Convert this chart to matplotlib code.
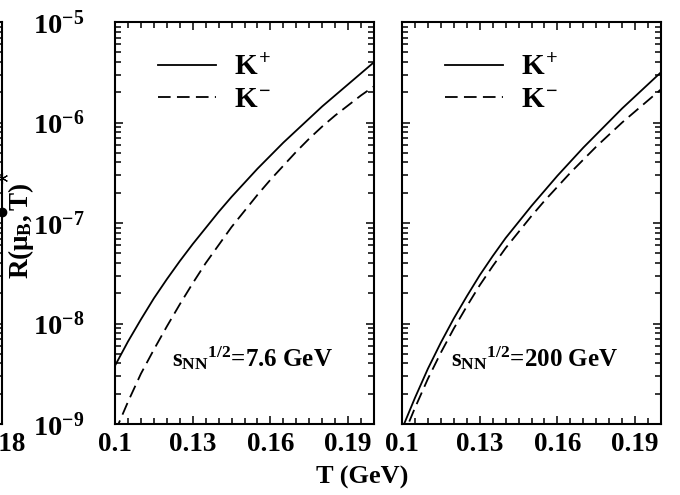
import numpy as np
import matplotlib
matplotlib.use("Agg")
import matplotlib.pyplot as plt
from matplotlib.ticker import LogLocator, NullFormatter, FixedLocator, MultipleLocator, FixedFormatter

plt.rcParams['font.family'] = ['Liberation Serif', 'DejaVu Serif']
plt.rcParams['font.weight'] = 'bold'
plt.rcParams['mathtext.fontset'] = 'custom'
plt.rcParams['mathtext.rm'] = 'Liberation Serif:bold'
plt.rcParams['mathtext.it'] = 'Liberation Serif:bold'
plt.rcParams['mathtext.bf'] = 'Liberation Serif:bold'

# ---- data ----
T = [0.100, 0.105, 0.110, 0.115, 0.120, 0.125, 0.130, 0.135, 0.140, 0.145, 0.150,
     0.155, 0.160, 0.165, 0.170, 0.175, 0.180, 0.185, 0.190, 0.195, 0.200]
# sqrt(s_NN) = 7.6 GeV  (log10 R)
kplus_76_log = [-8.42, -8.18, -7.96, -7.75, -7.56, -7.38, -7.21, -7.05, -6.89, -6.74, -6.60,
                -6.46, -6.33, -6.20, -6.08, -5.96, -5.84, -5.73, -5.62, -5.51, -5.40]
kminus_76_log = [-9.08, -8.78, -8.50, -8.26, -8.03, -7.81, -7.60, -7.40, -7.22, -7.04, -6.88,
                 -6.72, -6.57, -6.43, -6.29, -6.16, -6.04, -5.93, -5.83, -5.73, -5.64]
# sqrt(s_NN) = 200 GeV (log10 R)
kplus_200_log = [-9.05, -8.74, -8.45, -8.19, -7.95, -7.73, -7.52, -7.33, -7.15, -6.99, -6.83,
                 -6.68, -6.53, -6.39, -6.25, -6.12, -5.99, -5.86, -5.74, -5.62, -5.50]
kminus_200_log = [-9.15, -8.84, -8.55, -8.29, -8.05, -7.83, -7.62, -7.43, -7.25, -7.09, -6.93,
                  -6.78, -6.64, -6.50, -6.37, -6.24, -6.12, -6.00, -5.89, -5.78, -5.67]
# partially visible neighbouring panel (left edge)
left_T = [0.18, 0.18]
left_R_log = [-6.89, -6.55]

xticks = [0.1, 0.13, 0.16, 0.19]
xticklabels = ['0.1', '0.13', '0.16', '0.19']
yticks = [1e-9, 1e-8, 1e-7, 1e-6, 1e-5]
yticklabels = [r'$10^{-9}$', r'$10^{-8}$', r'$10^{-7}$', r'$10^{-6}$', r'$10^{-5}$']
energies = [r'${s_{NN}}^{1/2}$=7.6 GeV', r'${s_{NN}}^{1/2}$=200 GeV']
labels = [r'$K^{+}$', r'$K^{-}$']

W, H = 680, 495
fig = plt.figure(figsize=(W / 100, H / 100), dpi=100)

def frac(x0, y0, x1, y1):
    return [x0 / W, 1 - y1 / H, (x1 - x0) / W, (y1 - y0) / H]

ax0 = fig.add_axes(frac(-260, 22, 1.5, 424))
ax1 = fig.add_axes(frac(115, 22, 374, 424))
ax2 = fig.add_axes(frac(402, 22, 661, 424))

LS = dict(color='black', lw=1.3)
DS = dict(color='black', lw=1.3, dashes=(7, 3.5))

panels = [
    (ax1, kplus_76_log, kminus_76_log, energies[0], 0.22),
    (ax2, kplus_200_log, kminus_200_log, energies[1], 0.19),
]

for ax in [ax0, ax1, ax2]:
    ax.set_yscale('log')
    ax.set_ylim(1e-9, 1e-5)
    for s in ax.spines.values():
        s.set_linewidth(1.5)
    ax.yaxis.set_major_locator(FixedLocator(yticks))
    ax.yaxis.set_minor_locator(LogLocator(base=10, subs=np.arange(2, 10)))
    ax.yaxis.set_minor_formatter(NullFormatter())
    ax.tick_params(which='both', direction='in', top=True, right=True, width=1.1)
    ax.tick_params(which='major', length=6)
    ax.tick_params(which='minor', length=4)

for ax, kp, km, etxt, ex in panels:
    ax.plot(T, 10 ** np.array(kp), label=labels[0], **LS)
    ax.plot(T, 10 ** np.array(km), label=labels[1], **DS)
    ax.set_xlim(0.1, 0.2)
    ax.xaxis.set_major_locator(FixedLocator(xticks))
    ax.xaxis.set_major_formatter(FixedFormatter(xticklabels))
    ax.xaxis.set_minor_locator(MultipleLocator(0.005))
    ax.tick_params(axis='x', which='major', labelsize=19.5, pad=6)
    ax.text(ex, 0.165, etxt, transform=ax.transAxes, fontsize=18,
            fontweight='bold', va='center', ha='left')
    ax.legend(loc='upper left', bbox_to_anchor=(0.12, 0.95), frameon=False,
              fontsize=21, handlelength=2.0, handletextpad=0.6,
              labelspacing=0.18, borderaxespad=0)

ax1.set_yticklabels(yticklabels)
ax1.tick_params(axis='y', which='major', labelsize=20.5, pad=22)
ax2.set_yticklabels([])
ax1.set_ylabel(r'$R(\mu_B,T)$', fontsize=19.5)
ax1.yaxis.set_label_coords(-0.305, 0.48)

# neighbouring panel, mostly outside the figure
ax0.plot(left_T[:1], 10 ** np.array(left_R_log[:1]), 'o', color='black', ms=6, clip_on=False)
ax0.plot(left_T[1:], 10 ** np.array(left_R_log[1:]), marker=(6, 2, 0), ls='none',
         color='black', ms=8, mew=0.8, clip_on=False)
ax0.set_xlim(0.1, 0.18)
ax0.xaxis.set_major_locator(FixedLocator([0.18]))
ax0.xaxis.set_major_formatter(FixedFormatter(['0.18']))
ax0.xaxis.set_minor_locator(FixedLocator([]))
ax0.tick_params(axis='x', which='major', labelsize=19.5, pad=6)
ax0.set_yticklabels([])

fig.text(362 / W, 1 - 477 / H, 'T (GeV)', fontsize=19, fontweight='bold',
         ha='center', va='center')

fig.savefig('out.png', dpi=100)
